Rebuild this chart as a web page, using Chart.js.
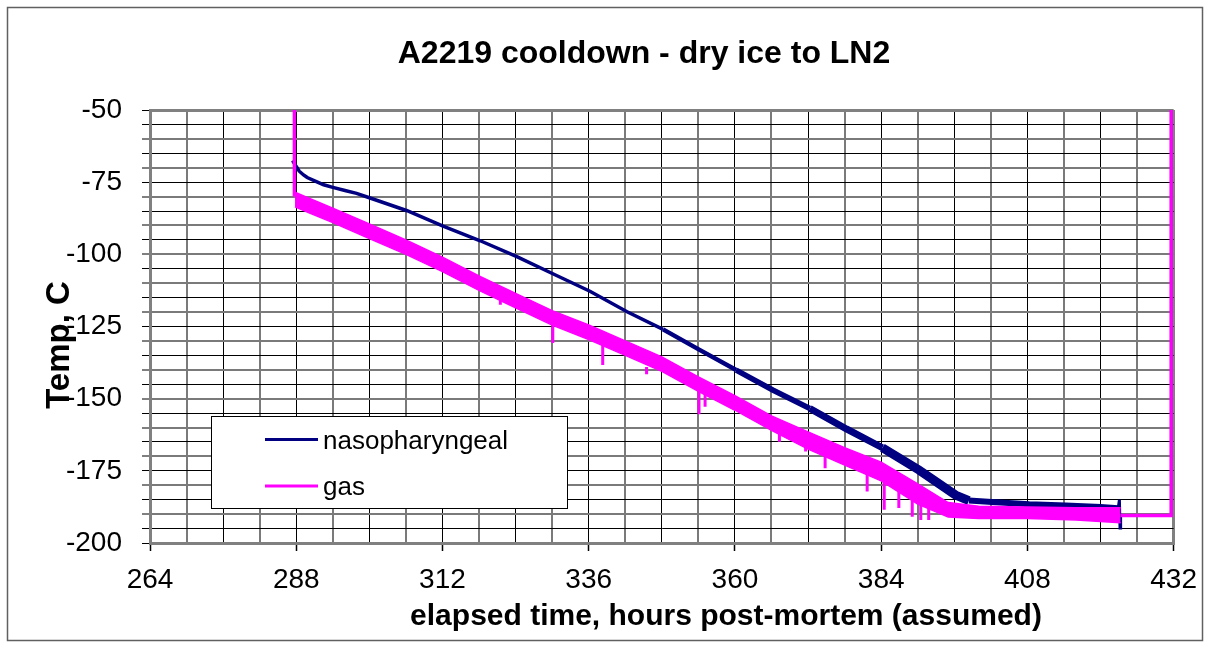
<!DOCTYPE html>
<html>
<head>
<meta charset="utf-8">
<title>A2219 cooldown</title>
<script src="https://cdn.jsdelivr.net/npm/chart.js@4/dist/chart.umd.min.js"></script>
<style>
  html, body { margin: 0; padding: 0; background: #fff; }
  #wrap { position: relative; width: 1209px; height: 648px; }
</style>
</head>
<body>
<div id="wrap"><canvas id="chart"></canvas></div>
<script>
// series names (legend order)
var seriesNames = ['nasopharyngeal', 'gas'];

// nasopharyngeal probe, hours post-mortem / temp C
var nasoHours = [287.4, 288, 288.5, 289.2, 289.8, 291.3, 292.5, 294, 296, 297.9, 300, 306.2, 312.1, 318.2,
  324.2, 330.2, 336.2, 342.3, 348.2, 354.2, 360.2, 366.2, 372.3, 378.3, 384.2, 390.2, 396.2, 398.4,
  402.2, 408.3, 414.3, 420, 422.9, 423.1, 423.2, 423.3, 431.6, 431.6];
var nasoTemp = [-67.5, -69.6, -71.2, -72.5, -73.4, -74.8, -75.9, -76.8, -77.9, -78.9, -80.4, -84.9, -90.2, -95.3,
  -100.8, -106.8, -112.8, -119.9, -126, -133.1, -140.1, -147, -153.4, -160.5, -167, -174.7, -183.4, -185.3,
  -185.8, -186.6, -187, -187.5, -188, -185, -194.8, -190.5, -190.5, -50];

// gas probe: noisy band, read as upper and lower edge
var gasHours = [287.8, 290, 294, 300, 306, 312, 318, 324, 330, 336, 342, 348, 354, 360,
  366, 372, 378, 384, 390, 395, 400, 408, 416, 423.3];
var gasTop = [-78.5, -80.5, -84, -89.5, -95, -101, -107.5, -113.5, -119.5, -124.5, -130, -135.5,
  -142.5, -149, -156, -161.5, -167, -172, -179.5, -186, -187.3, -187.5, -187.8, -187.8];
var gasBottom = [-83.5, -85.5, -89, -94.5, -100, -106, -112.5, -118.5, -124.5, -129.5, -135, -140.5,
  -147.5, -154, -161, -167.5, -173, -178.5, -186.5, -191, -191.5, -191.5, -192, -193];

// gas: drop at start, flat + jump at the end
var gasLeadHours = [287.7, 287.7];
var gasLeadTemp = [-50, -80];
var gasTailHours = [423.3, 431.6, 431.6];
var gasTailTemp = [-190.5, -190.5, -50];

// downward spikes on the gas trace
var spikeHours = [321.5, 330.1, 338.3, 345.5, 354.1, 355.1, 367.3, 371.6, 374.8, 381.7, 384.5, 386.9, 389.1, 390.5, 391.8];
var spikeTop = [-113, -124, -130.5, -139, -147, -148, -161, -166, -169, -175, -178, -180, -185, -186, -187];
var spikeLow = [-117.5, -130.7, -138.3, -141.5, -155.4, -152.8, -164.9, -168.3, -174.1, -182.2, -188.5, -187.9, -190.9, -192, -192];

// axis ticks
var xMin = 264, xMax = 432, xLabelStep = 24, xGridStep = 6;
var yMin = -200, yMax = -50, yLabelStep = 25, yGridStep = 5;

var FONT = "'Liberation Sans', Arial, Helvetica, sans-serif";
var NAVY = '#000080';
var MAGENTA = '#ff00ff';

function pts(xs, ys) {
  return xs.map(function (x, i) { return { x: x, y: ys[i] }; });
}

var leadTail = pts(gasLeadHours, gasLeadTemp);
leadTail.push({ x: 300, y: null });
leadTail = leadTail.concat(pts(gasTailHours, gasTailTemp));

var spikes = [];
spikeHours.forEach(function (h, i) {
  spikes.push({ x: h, y: spikeTop[i] });
  spikes.push({ x: h, y: spikeLow[i] });
  spikes.push({ x: h + 0.01, y: null });
});

// the probe trace gets noisier (thicker) as it cools
function nasoWidth(c) {
  var x = c.p0.parsed.x;
  if (x < 345) return 3.5;
  if (x < 360) return 4.5;
  if (x < 372) return 5.5;
  if (x < 384) return 7;
  if (x < 398) return 9;
  if (x < 422) return 6;
  if (x < 423.3) return 3;
  return 2.5;
}

var decor = {
  id: 'decor',
  beforeDraw: function (chart) {
    var ctx = chart.ctx;
    ctx.save();
    ctx.fillStyle = '#fff';
    ctx.fillRect(0, 0, chart.width, chart.height);
    ctx.strokeStyle = '#606060';
    ctx.lineWidth = 1.5;
    ctx.strokeRect(7.5, 7.5, 1195, 633);
    ctx.restore();
  },
  afterDatasetsDraw: function (chart) {
    var ctx = chart.ctx;
    ctx.save();
    // legend box
    ctx.fillStyle = '#fff';
    ctx.fillRect(211, 416, 356, 92);
    ctx.strokeStyle = '#000';
    ctx.lineWidth = 1;
    ctx.strokeRect(211.5, 416.5, 356, 92);
    var cols = [NAVY, MAGENTA];
    var lineY = [439.5, 486];
    var baseY = [449, 495];
    ctx.font = '26px ' + FONT;
    ctx.textBaseline = 'alphabetic';
    ctx.textAlign = 'left';
    for (var i = 0; i < seriesNames.length; i++) {
      ctx.strokeStyle = cols[i];
      ctx.lineWidth = 3;
      ctx.beginPath();
      ctx.moveTo(265, lineY[i]);
      ctx.lineTo(318, lineY[i]);
      ctx.stroke();
      ctx.fillStyle = '#000';
      ctx.fillText(seriesNames[i], 323, baseY[i]);
    }
    ctx.restore();
  },
  afterDraw: function (chart) {
    var ctx = chart.ctx;
    ctx.save();
    ctx.fillStyle = '#000';
    ctx.textAlign = 'center';
    ctx.textBaseline = 'alphabetic';
    ctx.font = 'bold 32px ' + FONT;
    ctx.fillText('A2219 cooldown - dry ice to LN2', 644, 63);
    ctx.font = 'bold 30px ' + FONT;
    ctx.fillText('elapsed time, hours post-mortem (assumed)', 726, 625);
    ctx.translate(69, 345);
    ctx.rotate(-Math.PI / 2);
    ctx.font = 'bold 33px ' + FONT;
    ctx.fillText('Temp, C', 0, 0);
    ctx.restore();
  }
};

new Chart(document.getElementById('chart'), {
  type: 'line',
  data: {
    datasets: [
      {
        label: seriesNames[0],
        data: pts(nasoHours, nasoTemp),
        borderColor: NAVY,
        borderWidth: 3.5,
        segment: { borderWidth: nasoWidth },
        pointRadius: 0,
        tension: 0,
        order: 2
      },
      {
        label: seriesNames[1],
        data: pts(gasHours, gasTop),
        borderColor: MAGENTA,
        backgroundColor: MAGENTA,
        borderWidth: 1.5,
        fill: '+1',
        pointRadius: 0,
        tension: 0,
        order: 1
      },
      {
        label: 'gas low',
        data: pts(gasHours, gasBottom),
        borderColor: MAGENTA,
        borderWidth: 1.5,
        fill: false,
        pointRadius: 0,
        tension: 0,
        order: 1
      },
      {
        label: 'gas spikes',
        data: spikes,
        borderColor: MAGENTA,
        borderWidth: 3,
        spanGaps: false,
        pointRadius: 0,
        order: 0
      },
      {
        label: 'gas ends',
        data: leadTail,
        borderColor: MAGENTA,
        borderWidth: 3.5,
        spanGaps: false,
        pointRadius: 0,
        order: 0
      }
    ]
  },
  options: {
    responsive: true,
    maintainAspectRatio: false,
    animation: false,
    events: [],
    layout: { padding: { top: 110, right: 34, bottom: 0, left: 0 } },
    plugins: {
      legend: { display: false },
      title: { display: false },
      tooltip: { enabled: false }
    },
    scales: {
      x: {
        type: 'linear',
        min: xMin,
        max: xMax,
        afterFit: function (s) { s.height = 105; },
        border: { color: '#808080', width: 3 },
        grid: {
          color: function (c) {
            var v = c.tick ? c.tick.value : 0;
            if (v === xMin || v === xMax) return '#808080';
            return v % 12 === 0 ? '#000' : '#7a7a7a';
          },
          lineWidth: function (c) {
            var v = c.tick ? c.tick.value : 0;
            if (v === xMin || v === xMax) return 3;
            return v % 12 === 0 ? 1 : 2;
          },
          tickColor: function (c) {
            var v = c.tick ? c.tick.value : 1;
            return v % xLabelStep === 0 ? '#000' : 'rgba(0,0,0,0)';
          },
          tickLength: 8,
          tickWidth: 1.5
        },
        ticks: {
          stepSize: xGridStep,
          autoSkip: false,
          maxRotation: 0,
          minRotation: 0,
          padding: 12,
          color: '#000',
          font: { family: FONT, size: 28 },
          callback: function (v) { return v % xLabelStep === 0 ? String(v) : ''; }
        }
      },
      y: {
        min: yMin,
        max: yMax,
        afterFit: function (s) { s.width = 150; },
        border: { color: '#808080', width: 3 },
        grid: {
          color: function (c) {
            var v = c.tick ? c.tick.value : 0;
            if (v === yMin || v === yMax) return '#808080';
            return v % 10 === 0 ? '#7a7a7a' : '#000';
          },
          lineWidth: function (c) {
            var v = c.tick ? c.tick.value : 0;
            if (v === yMin || v === yMax) return 3;
            return v % 10 === 0 ? 2 : 1;
          },
          tickColor: '#000',
          tickLength: 8,
          tickWidth: 1
        },
        ticks: {
          stepSize: yGridStep,
          autoSkip: false,
          padding: 20,
          color: '#000',
          font: { family: FONT, size: 28 },
          callback: function (v) { return v % yLabelStep === 0 ? String(v) : ''; }
        }
      }
    }
  },
  plugins: [decor]
});
</script>
</body>
</html>
